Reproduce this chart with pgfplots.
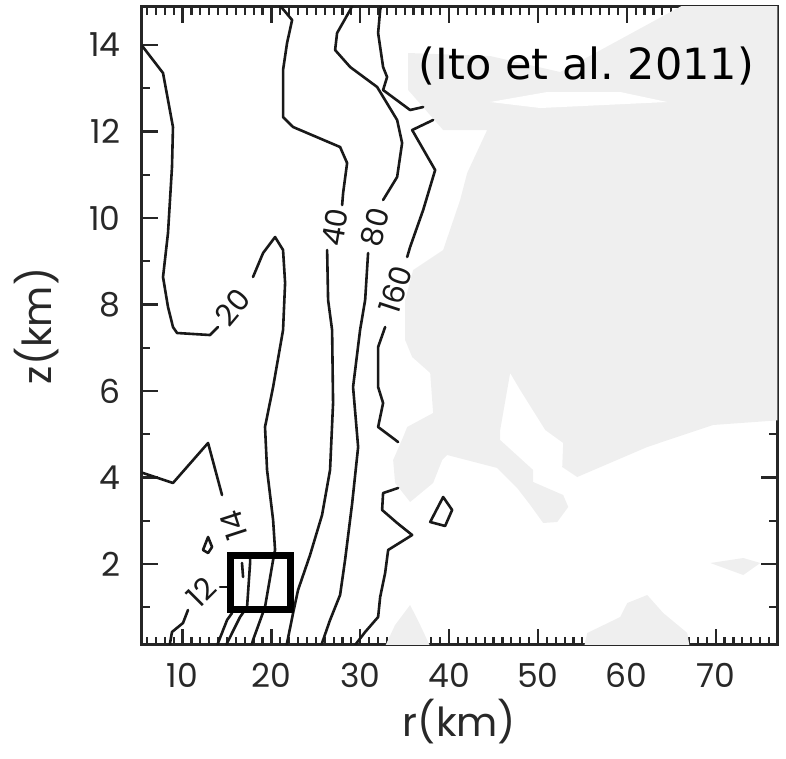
\documentclass[border=0pt]{standalone}
\usepackage{fontspec}
\setmainfont{Poppins}
\newfontfamily\citefont{DejaVu Sans}
\usepackage{pgfplots}
\pgfplotsset{compat=1.18}
\definecolor{shade}{RGB}{239,239,239}
\definecolor{tickgray}{RGB}{40,40,40}
\tikzset{
  contour/.style={black!90, line width=2.6pt, line join=round, line cap=round},
  clab/.style={font=\fontsize{30}{36}\selectfont, inner sep=0pt, text=black!90}
}
\begin{document}
\begin{tikzpicture}[x=1pt,y=1pt]
\useasboundingbox (0,0) rectangle (786,759);
\begin{axis}[
  at={(141.7pt,114pt)}, anchor=south west,
  scale only axis, width=635.6pt, height=638pt,
  xmin=5.40, xmax=76.94, ymin=0.128, ymax=14.88,
  xtick={10,20,...,70}, ytick={2,4,...,14},
  minor xtick={6,...,76}, minor ytick={1,3,...,13},
  tick align=inside, tick pos=both,
  xticklabel pos=left, yticklabel pos=left,
  major tick length=16pt, minor tick length=8pt,
  every tick/.append style={line width=2.2pt, black!85},
  axis line style={line width=3pt, black!85},
  /pgf/number format/assume math mode=true,
  ticklabel style={font=\fontsize{33}{40}\selectfont, text=tickgray},
  xticklabel style={inner sep=0pt, anchor=north, yshift=-18pt},
  yticklabel style={inner sep=0pt, anchor=east, xshift=-21pt},
  xlabel={r(km)}, ylabel={z(km)},
  label style={font=\fontsize{40}{48}\selectfont, text=tickgray},
  xlabel style={at={(axis description cs:0.5,-0.1207)}, anchor=center},
  ylabel style={at={(axis description cs:-0.1647,0.5)}, anchor=center},
]
% grey masked region
\addplot[draw=none, fill=shade] coordinates {
(66.58,14.95) (77.5,14.95) (77.5,5.33) (69.73,5.215) (62.30,4.706) (54.42,4.012)
(52.73,4.244) (52.84,4.799) (50.82,5.099) (48.00,6.024) (46.87,6.417) (45.75,5.099)
(45.75,4.867) (49.46,4.174) (49.46,3.897) (52.84,3.596) (53.41,3.319) (52.17,2.972)
(50.59,2.949) (49.13,3.365) (47.66,3.758) (45.41,4.221) (39.78,4.521) (39.22,4.405)
(38.20,3.874) (35.61,3.434) (33.92,3.874) (33.70,4.405) (34.83,4.937) (35.28,5.169)
(38.20,5.492) (37.87,6.417) (35.84,6.787) (35.05,7.180) (35.05,8.105) (35.95,8.798)
(39.33,9.261) (41.24,10.417) (42.03,11.041) (44.28,12.035) (39.33,12.035) (35.39,12.960)
(35.39,13.816) (44.62,13.746) (52.51,13.376)
} --cycle;
\addplot[draw=none, fill=white] coordinates {
(44.62,12.683) (51.04,12.914) (59.26,12.914) (64.55,12.683) (50.25,12.544)
} --cycle;
\addplot[draw=none, fill=shade] coordinates {
(32.57,0.0) (33.92,0.591) (35.61,1.053) (36.74,0.591) (38.09,0.0)
} --cycle;
\addplot[draw=none, fill=shade] coordinates {
(55.10,0.0) (55.55,0.406) (59.26,0.775) (60.05,1.099) (62.30,1.284) (64.10,0.868) (66.81,0.406) (67.14,0.0)
} --cycle;
\addplot[draw=none, fill=shade] coordinates {
(69.40,2.024) (73.11,2.139) (75.03,2.024) (73.11,1.746)
} --cycle;
% contour 20
\addplot[contour] coordinates {
(5.2,14.0) (5.55,13.954) (7.80,13.353) (8.92,12.105) (8.81,11.180) (8.36,9.654)
(7.80,8.637) (8.36,7.943) (8.92,7.480) (9.38,7.342) (13.09,7.295) (13.99,7.480)
};
\addplot[contour] coordinates {
(17.93,8.637) (19.06,9.191) (20.41,9.561) (21.31,9.261) (21.54,8.498) (21.31,7.411)
(20.19,6.093) (19.28,5.169) (19.51,4.174) (20.19,3.018) (20.41,2.325) (20.19,2.093)
(19.28,1.007) (17.93,0.243) (17.60,0.0)
};
% contour 40
\addplot[contour] coordinates {
(20.6,15.0) (21.20,14.856) (22.33,14.579) (21.76,14.047) (21.31,13.423) (21.31,12.336)
(22.44,12.105) (27.73,11.642) (28.52,11.272) (28.07,10.579) (27.96,10.30)
};
\addplot[contour] coordinates {
(26.27,9.261) (26.38,8.105) (26.83,7.411) (26.94,5.723) (26.60,4.174) (25.70,3.134)
(24.35,2.209) (23.00,1.400) (22.44,0.868) (21.76,0.174) (21.6,0.0)
};
% contour 80
\addplot[contour] coordinates {
(29.3,15.0) (28.86,14.81) (27.39,14.278) (27.17,13.885) (28.86,13.492) (31.90,13.030)
(34.15,12.267) (34.71,11.735) (34.15,10.949) (32.57,10.417)
};
\addplot[contour] coordinates {
(30.88,9.191) (30.55,8.105) (29.98,7.411) (29.19,6.093) (29.76,4.706) (29.08,3.388)
(28.29,2.093) (27.73,1.284) (26.60,0.706) (25.70,0.174) (25.4,0.0)
};
% contour 160
\addplot[contour] coordinates {
(32.46,15.0) (32.24,14.81) (32.01,14.278) (32.57,13.492) (33.02,13.261) (32.57,12.960)
(35.61,12.498) (37.08,12.567)
};
\addplot[contour] coordinates {
(38.20,12.267) (35.84,12.035) (38.43,11.110) (37.08,10.186) (35.61,9.330) (35.28,9.099)
};
\addplot[contour] coordinates {
(32.80,7.480) (32.01,7.018) (32.01,6.093) (32.57,5.723) (32.01,5.169) (34.26,4.821)
};
\addplot[contour] coordinates {
(34.26,3.758) (32.57,3.642) (32.46,3.250) (34.15,2.949) (35.84,2.671) (33.14,2.325)
(32.80,1.793) (32.24,1.238) (32.01,0.775) (30.55,0.429) (29.42,0.128) (29.1,0.0)
};
% small closed contours
\addplot[contour] coordinates {
(39.33,3.550) (40.34,3.250) (39.55,2.880) (37.87,2.972)
} --cycle;
\addplot[contour] coordinates {
(12.87,2.625) (13.32,2.394) (12.87,2.255) (12.30,2.325)
} --cycle;
% contour 14
\addplot[contour] coordinates {
(5.2,4.11) (5.55,4.105) (8.92,3.874) (12.87,4.799) (14.44,3.596)
};
\addplot[contour] coordinates {
(17.60,2.186) (17.60,2.024) (17.26,1.007) (16.47,0.775) (15.01,0.174) (14.7,0.0)
};
% contour 12
\addplot[contour] coordinates {
(8.55,0.0) (8.59,0.174) (8.81,0.429) (10.05,0.637) (10.61,0.937)
};
\addplot[contour] coordinates {(14.22,1.469) (15.57,1.469)};
\addplot[contour] coordinates {(16.69,2.024) (16.81,1.700)};
\addplot[contour] coordinates {
(15.57,0.868) (15.01,0.706) (13.99,0.174) (13.85,0.0)
};
% highlighted box
\addplot[black, line width=7pt, line join=miter] coordinates {
(15.34,2.197) (22.10,2.197) (22.10,0.949) (15.34,0.949)
} --cycle;
% contour labels
\node[clab, rotate=50] at (axis cs:15.68,7.94) {20};
\node[clab, rotate=80] at (axis cs:27.17,9.79) {40};
\node[clab, rotate=75] at (axis cs:31.67,9.79) {80};
\node[clab, rotate=72] at (axis cs:33.92,8.34) {160};
\node[clab, rotate=108] at (axis cs:15.80,2.90) {14};
\node[clab, rotate=45] at (axis cs:12.08,1.35) {12};
\end{axis}
\node[font=\citefont\fontsize{43}{50}\selectfont, inner sep=0pt, anchor=base, text=black] at (586.5,679) {(Ito et al.\ 2011)};
\end{tikzpicture}
\end{document}
